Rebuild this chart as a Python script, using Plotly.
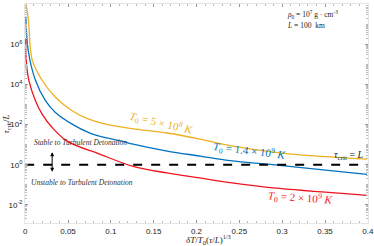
import plotly.graph_objects as go

# data (x = dT/T0 (tau/L)^(1/3), y = tau_crit/L)
x_yellow = [0.001, 0.0038, 0.0082, 0.0198, 0.0353, 0.0548, 0.0743, 0.0936, 0.1248, 0.1656, 0.2041, 0.2391, 0.297, 0.399]
y_yellow = [9.8e7, 1.6e7, 1.6e5, 1.6e4, 2.3e3, 4.9e2, 1.86e2, 1.05e2, 6.3e1, 3.8e1, 1.9e1, 8.9, 3.9, 1.9]

x_blue = [0.0008, 0.0035, 0.012, 0.0237, 0.0353, 0.0548, 0.0743, 0.0936, 0.1131, 0.126, 0.1656, 0.2041, 0.2391, 0.297, 0.399]
y_blue = [2.3e7, 5.0e5, 1.6e4, 1.55e3, 4.0e2, 1.05e2, 4.0e1, 2.24e1, 1.5e1, 1.05e1, 4.8, 2.7, 1.6, 0.93, 0.33]

x_red = [0.0008, 0.0012, 0.0043, 0.012, 0.0198, 0.0315, 0.049, 0.0875, 0.126, 0.1656, 0.2041, 0.2391, 0.297, 0.399]
y_red = [2.0e6, 1.6e5, 1.6e4, 1.55e3, 3.3e2, 7.1e1, 1.5e1, 3.3, 0.83, 0.39, 0.22, 0.13, 0.066, 0.030]

x_thresh = [0, 0.4]
y_thresh = [1, 1]

y_tickvals = [1e-2, 1e0, 1e2, 1e4, 1e6, 1e8]
y_ticktext = ["10<sup>-2</sup>", "10<sup>0</sup>", "10<sup>2</sup>", "10<sup>4</sup>", "10<sup>6</sup>", "10<sup>8</sup>"]
x_tickvals = [0, 0.05, 0.1, 0.15, 0.2, 0.25, 0.3, 0.35, 0.4]
x_ticktext = ["0", "0.05", "0.1", "0.15", "0.2", "0.25", "0.3", "0.35", "0.4"]

YELLOW = "#EDB120"
BLUE = "#0072BD"
RED = "#F0141E"

fig = go.Figure()
for xs, ys, c in [(x_yellow, y_yellow, YELLOW), (x_blue, y_blue, BLUE), (x_red, y_red, RED)]:
    fig.add_trace(go.Scatter(x=xs, y=ys, mode="lines",
                             line=dict(color=c, width=1.3, shape="spline", smoothing=1.0)))
fig.add_trace(go.Scatter(x=x_thresh, y=y_thresh, mode="lines", line=dict(color="black", width=2, dash="dash")))

serif = "Liberation Serif"
anns = [
    dict(x=0.158, y=2.10, text="<i>T</i><sub>0</sub> = 5 × 10<sup>8</sup> <i>K</i>", font=dict(color=YELLOW, size=11, family=serif), textangle=13),
    dict(x=0.262, y=0.70, text="<i>T</i><sub>0</sub> = 1.4 × 10<sup>9</sup> <i>K</i>", font=dict(color=BLUE, size=11, family=serif), textangle=7),
    dict(x=0.321, y=-1.64, text="<i>T</i><sub>0</sub> = 2 × 10<sup>9</sup> <i>K</i>", font=dict(color=RED, size=11, family=serif), textangle=4),
    dict(x=0.378, y=0.45, text="<i>τ</i><sub>crit</sub> = <i>L</i>", font=dict(color="#222", size=10, family=serif)),
    dict(x=0.064, y=1.09, text="<i>Stable to Turbulent Detonation</i>", font=dict(color="#333", size=7.5, family=serif)),
    dict(x=0.066, y=-0.90, text="<i>Unstable to Turbulent Detonation</i>", font=dict(color="#333", size=7.5, family=serif)),
    dict(x=0.303, y=7.46, text="<i>ρ</i><sub>0</sub> = 10<sup>7</sup> g · cm<sup>-3</sup>", font=dict(color="#222", size=7.5, family=serif), xanchor="left"),
    dict(x=0.303, y=6.92, text="<i>L</i> = 100  km", font=dict(color="#222", size=7.5, family=serif), xanchor="left"),
]
for a in anns:
    a.setdefault("xanchor", "center")
    fig.add_annotation(xref="x", yref="y", showarrow=False, **a)

# double-headed arrow
fig.add_annotation(xref="x", yref="y", axref="x", ayref="y", x=0.0315, y=0.62, ax=0.0315, ay=-0.42,
                   text="", showarrow=True, arrowhead=2, arrowside="end+start", arrowsize=0.8,
                   arrowwidth=1, arrowcolor="black")

# axis titles
fig.add_annotation(xref="paper", yref="paper", x=0.535, y=-0.076, yanchor="middle", showarrow=False,
                   text="<i>δT</i>/<i>T</i><sub>0</sub>(<i>τ</i>/<i>L</i>)<sup>1/3</sup>",
                   font=dict(size=9, family=serif, color="#222"))
fig.add_annotation(xref="paper", yref="paper", x=-0.055, y=0.45, xanchor="center", showarrow=False,
                   text="<i>τ</i><sub>crit</sub>/<i>L</i>", textangle=-90,
                   font=dict(size=9, family=serif, color="#222"))

fig.update_layout(
    width=374, height=246,
    margin=dict(l=25, r=6, t=4, b=23),
    paper_bgcolor="white", plot_bgcolor="white",
    showlegend=False,
    font=dict(family="Liberation Sans", size=8, color="#222"),
)
fig.update_xaxes(range=[-0.0002, 0.4002], tickvals=x_tickvals, ticktext=x_ticktext, automargin=False,
                 ticks="inside", ticklen=3, tickcolor="#999", showgrid=False, zeroline=False,
                 showline=True, linecolor="#e6e6e6", linewidth=1, mirror="ticks",
                 minor=dict(ticks="inside", ticklen=2, tickcolor="#bbb", dtick=0.01),
                 tickfont=dict(size=8))
fig.update_yaxes(type="log", range=[-2.9, 8], tickvals=y_tickvals, ticktext=y_ticktext, automargin=False,
                 ticks="inside", ticklen=3, tickcolor="#999", showgrid=False, zeroline=False,
                 showline=True, linecolor="#e6e6e6", linewidth=1, mirror="ticks",
                 minor=dict(ticks="inside", ticklen=2, tickcolor="#bbb", dtick="D1"),
                 tickfont=dict(size=8))

fig.write_html("out.html", config={"displayModeBar": False},
               post_script="document.body.style.margin='0';document.body.style.overflow='hidden';")
